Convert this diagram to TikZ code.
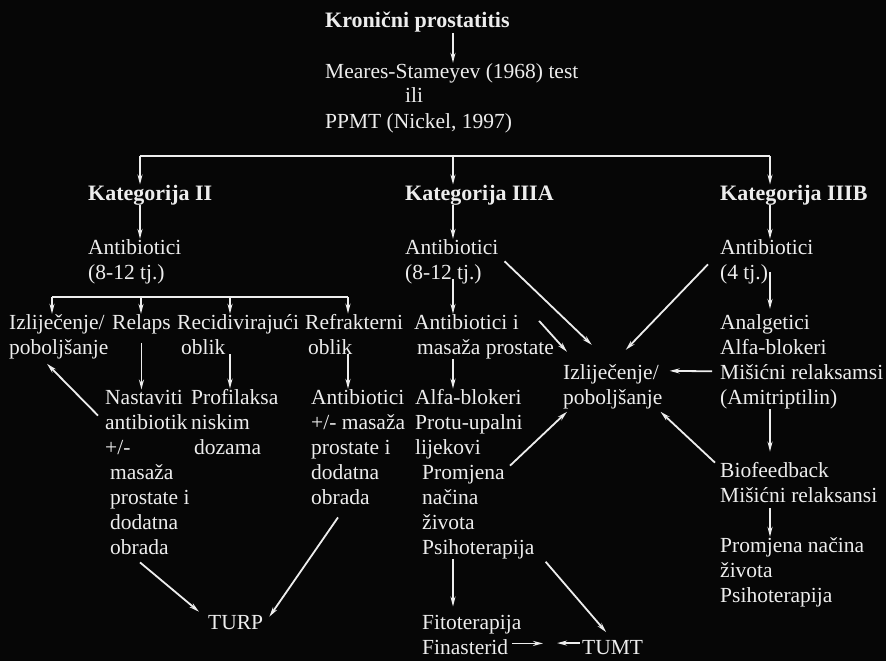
\documentclass[tikz,border=0pt]{standalone}
\usepackage{fontspec}
\setmainfont{Liberation Serif}
\usetikzlibrary{calc,arrows.meta}

\definecolor{bg}{HTML}{060606}
\definecolor{fg}{HTML}{EDEDED}

% multi-line nodes sit on the baseline of their last line
\tikzset{
  txt/.style={anchor=base west, align=left, inner sep=0pt, text=fg,
    font=\fontsize{21.5}{25}\selectfont},
  hd/.style={txt, font=\fontsize{22}{25}\selectfont\bfseries},
  arr/.style={draw=fg, line width=1.8pt, -{Stealth[length=10pt,width=5pt]}},
  ln/.style={draw=fg, line width=2pt}
}

\begin{document}
\begin{tikzpicture}[x=1pt,y=-1pt]
%%%%% START %%%%%

\fill[bg] (0,0) rectangle (886,661);

\node[hd] (title) at (325,28) {Kronični prostatitis};
\node[txt] (test) at (325,128) {Meares-Stameyev (1968) test\\\hspace*{80pt}ili\\PPMT (Nickel, 1997)};
\draw[arr] (title.south -| 453,0) -- (test.north -| 453,0);

\coordinate (jII) at (140,156);
\coordinate (jIIIA) at (453,156);
\coordinate (jIIIB) at (770,156);

\node[hd] (catII) at (88,200) {Kategorija II};
\node[hd] (catIIIA) at (405,200) {Kategorija IIIA};
\node[hd] (catIIIB) at (720,200) {Kategorija IIIB};

\draw[ln] (jII) -- (jIIIB);
\draw[arr] (jII) -- (jII |- catII.north);
\draw[arr] (jIIIA) -- (jIIIA |- catIIIA.north);
\draw[arr] (jIIIB) -- (jIIIB |- catIIIB.north);

%%%%% kategorija II
\node[txt] (abII) at (88,279) {Antibiotici\\(8-12 tj.)};
\draw[arr] (catII.south -| jII) -- (abII.north -| jII);

\coordinate (fk1) at (52,297);
\coordinate (fk2) at (141,297);
\coordinate (fk3) at (230,297);
\coordinate (fk4) at (348,297);
\draw[ln] (fk1) -- (fk4);

\node[txt] (izl) at (9,354) {Izliječenje/\\poboljšanje};
\node[txt] (relaps) at (112,329) {Relaps};
\node[txt] (recid) at (177,354) {Recidivirajući\\\hspace*{4pt}oblik};
\node[txt] (refr) at (305,354) {Refrakterni\\\hspace*{3pt}oblik};

\draw[arr] (fk1) -- (fk1 |- izl.north);
\draw[arr] (fk2) -- (fk2 |- relaps.north);
\draw[arr] (fk3) -- (fk3 |- recid.north);
\draw[arr] (fk4) -- (fk4 |- refr.north);

\node[txt] (nast) at (105,554) {Nastaviti\\antibiotik\\+/-\\\hspace*{5pt}masaža\\\hspace*{5pt}prostate i\\\hspace*{5pt}dodatna\\\hspace*{5pt}obrada};
\node[txt] (profil) at (191,454) {Profilaksa\\niskim\\\hspace*{3pt}dozama};
\node[txt] (ab3) at (311,504) {Antibiotici\\+/- masaža\\prostate i\\dodatna\\obrada};
\node[txt] (turp) at (208,629) {TURP};

\draw[arr, shorten <=9pt] (relaps.south) -- (relaps.south |- nast.north);
\draw[arr] (fk3 |- recid.south) -- (fk3 |- profil.north);
\draw[arr] (fk4 |- refr.south) -- (fk4 |- ab3.north);
\draw[arr] ($(nast.north west)+(-7,26)$) -- ($(izl.south west)+(38,5)$);
\draw[arr] ($(nast.south west)+(35,8)$) -- ($(turp.north west)+(-9,-3)$);
\draw[arr] ($(ab3.south west)+(27,13)$) -- ($(turp.north east)+(6,2)$);

%%%%% kategorija IIIA
\node[txt] (abIIIA) at (405,279) {Antibiotici\\(8-12 tj.)};
\node[txt] (ab2A) at (414,354) {Antibiotici i\\\hspace*{3pt}masaža prostate};
\node[txt] (alfaA) at (415,554) {Alfa-blokeri\\Protu-upalni\\lijekovi\\\hspace*{7pt}Promjena\\\hspace*{7pt}načina\\\hspace*{7pt}života\\\hspace*{7pt}Psihoterapija};
\node[txt] (fito) at (422,654) {Fitoterapija\\Finasterid};
\node[txt] (tumt) at (582,654) {TUMT};

\draw[arr] (catIIIA.south -| jIIIA) -- (abIIIA.north -| jIIIA);
\draw[arr, shorten <=-5pt] (abIIIA.south -| jIIIA) -- (ab2A.north -| jIIIA);
\draw[arr] (ab2A.south -| jIIIA) -- (alfaA.north -| jIIIA);
\draw[arr, shorten >=8pt] (alfaA.south -| jIIIA) -- (fito.north -| jIIIA);
\draw[arr, shorten >=10pt] ($(alfaA.south east)+(11,3)$) -- (tumt.north);
\draw[arr] ($(fito.south west)+(90,-11)$) -- +(31,0);
\draw[arr] ($(tumt.west)+(-2,-4)$) -- +(-23,0);

%%%%% izlijecenje
\node[txt] (izlC) at (563,404) {Izliječenje/\\poboljšanje};

%%%%% kategorija IIIB
\node[txt] (abIIIB) at (720,279) {Antibiotici\\(4 tj.)};
\node[txt] (anal) at (720,404) {Analgetici\\Alfa-blokeri\\Mišićni relaksamsi\\(Amitriptilin)};
\node[txt] (bio) at (720,502) {Biofeedback\\Mišićni relaksansi};
\node[txt] (prom) at (720,602) {Promjena načina\\života\\Psihoterapija};

\draw[arr] (catIIIB.south -| jIIIB) -- (abIIIB.north -| jIIIB);
\draw[arr, shorten >=5pt] ($(abIIIB.south -| jIIIB)+(0,-12)$) -- (anal.north -| jIIIB);
\draw[arr, shorten >=10pt] (anal.south -| jIIIB) -- (bio.north -| jIIIB);
\draw[arr, shorten <=6pt] (bio.south -| jIIIB) -- (prom.north -| jIIIB);

\draw[arr] ($(abIIIA.east)+(6,0)$) -- ($(izlC.north)+(-21,-19)$);
\draw[arr] ($(abIIIB.west)+(-12,3)$) -- ($(izlC.north)+(13,-14)$);
\draw[arr] ($(ab2A.north east)+(-15,7)$) -- ($(izlC.north west)+(4,-12)$);
\draw[arr] ($(anal.west)+(-8,10)$) -- ($(izlC.north east)+(7,7)$);
\draw[arr] ($(alfaA.north west)+(95,77)$) -- ($(izlC.south west)+(4,3)$);
\draw[arr] ($(bio.north west)+(-5,1)$) -- ($(izlC.south east)+(-2,3)$);

%%%%% END %%%%%
\end{tikzpicture}
\end{document}
